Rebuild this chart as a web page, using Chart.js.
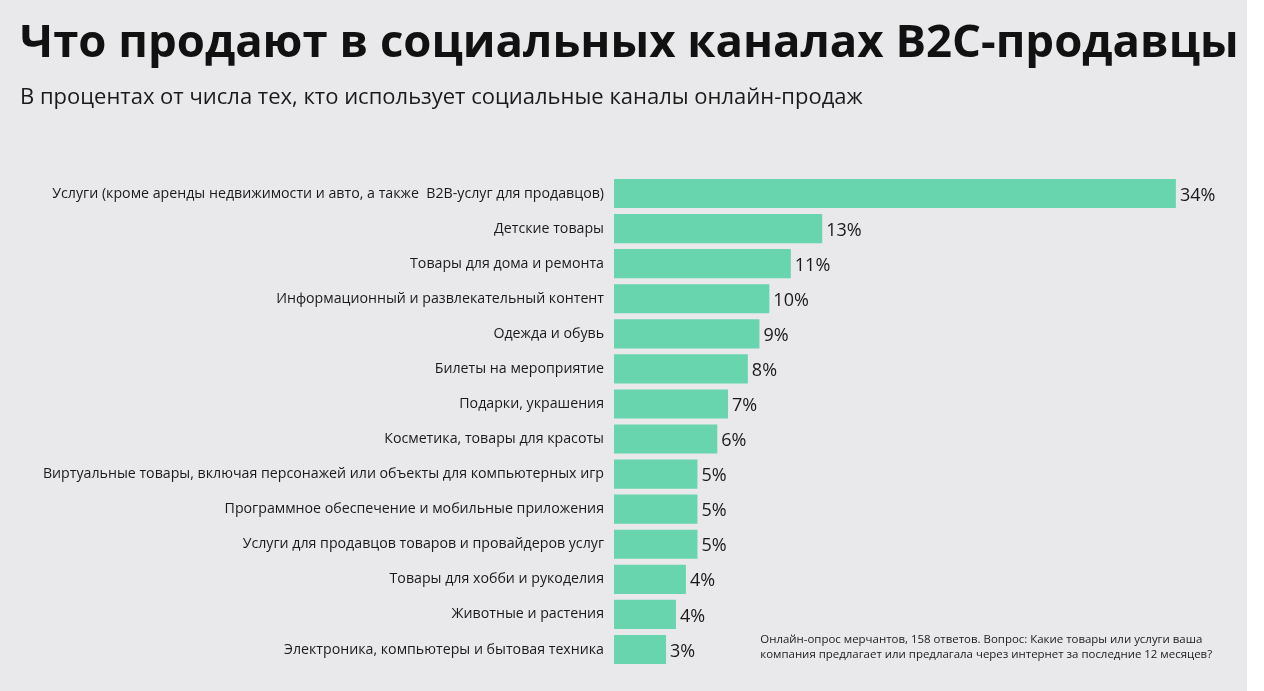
<!DOCTYPE html>
<html>
<head>
<meta charset="utf-8">
<script src="https://cdn.jsdelivr.net/npm/chart.js@4"></script>
<style>
html,body{margin:0;padding:0;background:#ffffff;}
#wrap{width:1264px;height:691px;position:relative;}
</style>
</head>
<body>
<div id="wrap"><canvas id="c" width="1264" height="691"></canvas></div>
<script>
const titleText = "Что продают в социальных каналах B2C-продавцы";
const subtitleText = "В процентах от числа тех, кто использует социальные каналы онлайн-продаж";
const footnoteLines = [
  "Онлайн-опрос мерчантов, 158 ответов. Вопрос: Какие товары или услуги ваша",
  "компания предлагает или предлагала через интернет за последние 12 месяцев?"
];
const categories = [
  "Услуги (кроме аренды недвижимости и авто, а также  B2B-услуг для продавцов)",
  "Детские товары",
  "Товары для дома и ремонта",
  "Информационный и развлекательный контент",
  "Одежда и обувь",
  "Билеты на мероприятие",
  "Подарки, украшения",
  "Косметика, товары для красоты",
  "Виртуальные товары, включая персонажей или объекты для компьютерных игр",
  "Программное обеспечение и мобильные приложения",
  "Услуги для продавцов товаров и провайдеров услуг",
  "Товары для хобби и рукоделия",
  "Животные и растения",
  "Электроника, компьютеры и бытовая техника"
];
// bar lengths (%)
const values = [34, 12.6, 10.7, 9.4, 8.8, 8.1, 6.9, 6.25, 5.05, 5.05, 5.05, 4.35, 3.75, 3.15];
// value labels as printed in the picture
const valueLabels = ["34%", "13%", "11%", "10%", "9%", "8%", "7%", "6%", "5%", "5%", "5%", "4%", "4%", "3%"];

const bgPlugin = {
  id: 'bg',
  beforeDraw(chart) {
    const ctx = chart.ctx;
    ctx.save();
    ctx.fillStyle = '#ffffff';
    ctx.fillRect(0, 0, chart.width, chart.height);
    ctx.fillStyle = '#e9e9eb';
    ctx.fillRect(0, 0, chart.width - 17, chart.height);
    ctx.restore();
  }
};

const valuePlugin = {
  id: 'values',
  afterDatasetsDraw(chart) {
    const ctx = chart.ctx;
    const meta = chart.getDatasetMeta(0);
    ctx.save();
    ctx.font = '400 18px "Open Sans"';
    ctx.fillStyle = '#1a1a1a';
    ctx.textAlign = 'left';
    ctx.textBaseline = 'middle';
    meta.data.forEach((bar, i) => {
      ctx.fillText(valueLabels[i], bar.x + 4, bar.y + 2);
    });
    ctx.restore();
  }
};

const footnotePlugin = {
  id: 'footnote',
  afterDraw(chart) {
    const ctx = chart.ctx;
    const meta = chart.getDatasetMeta(0);
    const last = meta.data[meta.data.length - 1];
    const xs = chart.scales.x;
    ctx.save();
    ctx.font = '400 11.45px "Open Sans"';
    ctx.fillStyle = '#1a1a1a';
    ctx.textAlign = 'left';
    ctx.textBaseline = 'middle';
    const x0 = xs.getPixelForValue(8.85);
    ctx.fillText(footnoteLines[0], x0, last.y - 10);
    ctx.fillText(footnoteLines[1], x0, last.y + 5);
    ctx.restore();
  }
};

new Chart(document.getElementById('c'), {
  type: 'bar',
  data: {
    labels: categories,
    datasets: [{
      data: values,
      backgroundColor: '#68d5ae',
      borderWidth: 0,
      barPercentage: 0.83,
      categoryPercentage: 1.0
    }]
  },
  plugins: [bgPlugin, valuePlugin, footnotePlugin],
  options: {
    indexAxis: 'y',
    responsive: false,
    animation: false,
    events: [],
    layout: { padding: { top: 0, left: 20, right: 22, bottom: 24 } },
    plugins: {
      legend: { display: false },
      tooltip: { enabled: false },
      title: {
        display: true,
        text: titleText,
        align: 'start',
        color: '#111111',
        font: { family: '"Open Sans"', size: 45.5, weight: '700', lineHeight: 1.2 },
        padding: { top: 17, bottom: 13 }
      },
      subtitle: {
        display: true,
        text: subtitleText,
        align: 'start',
        color: '#1a1a1a',
        font: { family: '"Open Sans"', size: 22, weight: '400', lineHeight: 1.2 },
        padding: { top: 0, bottom: 65 }
      }
    },
    scales: {
      x: {
        display: false,
        min: 0,
        max: 38,
        grid: { display: false }
      },
      y: {
        offset: true,
        grid: { display: false, drawTicks: false },
        border: { display: false },
        ticks: {
          color: '#1a1a1a',
          padding: 10,
          font: { family: '"Open Sans"', size: 14.2 }
        },
        afterFit(scale) { scale.width = 594; }
      }
    }
  }
});
</script>
</body>
</html>
